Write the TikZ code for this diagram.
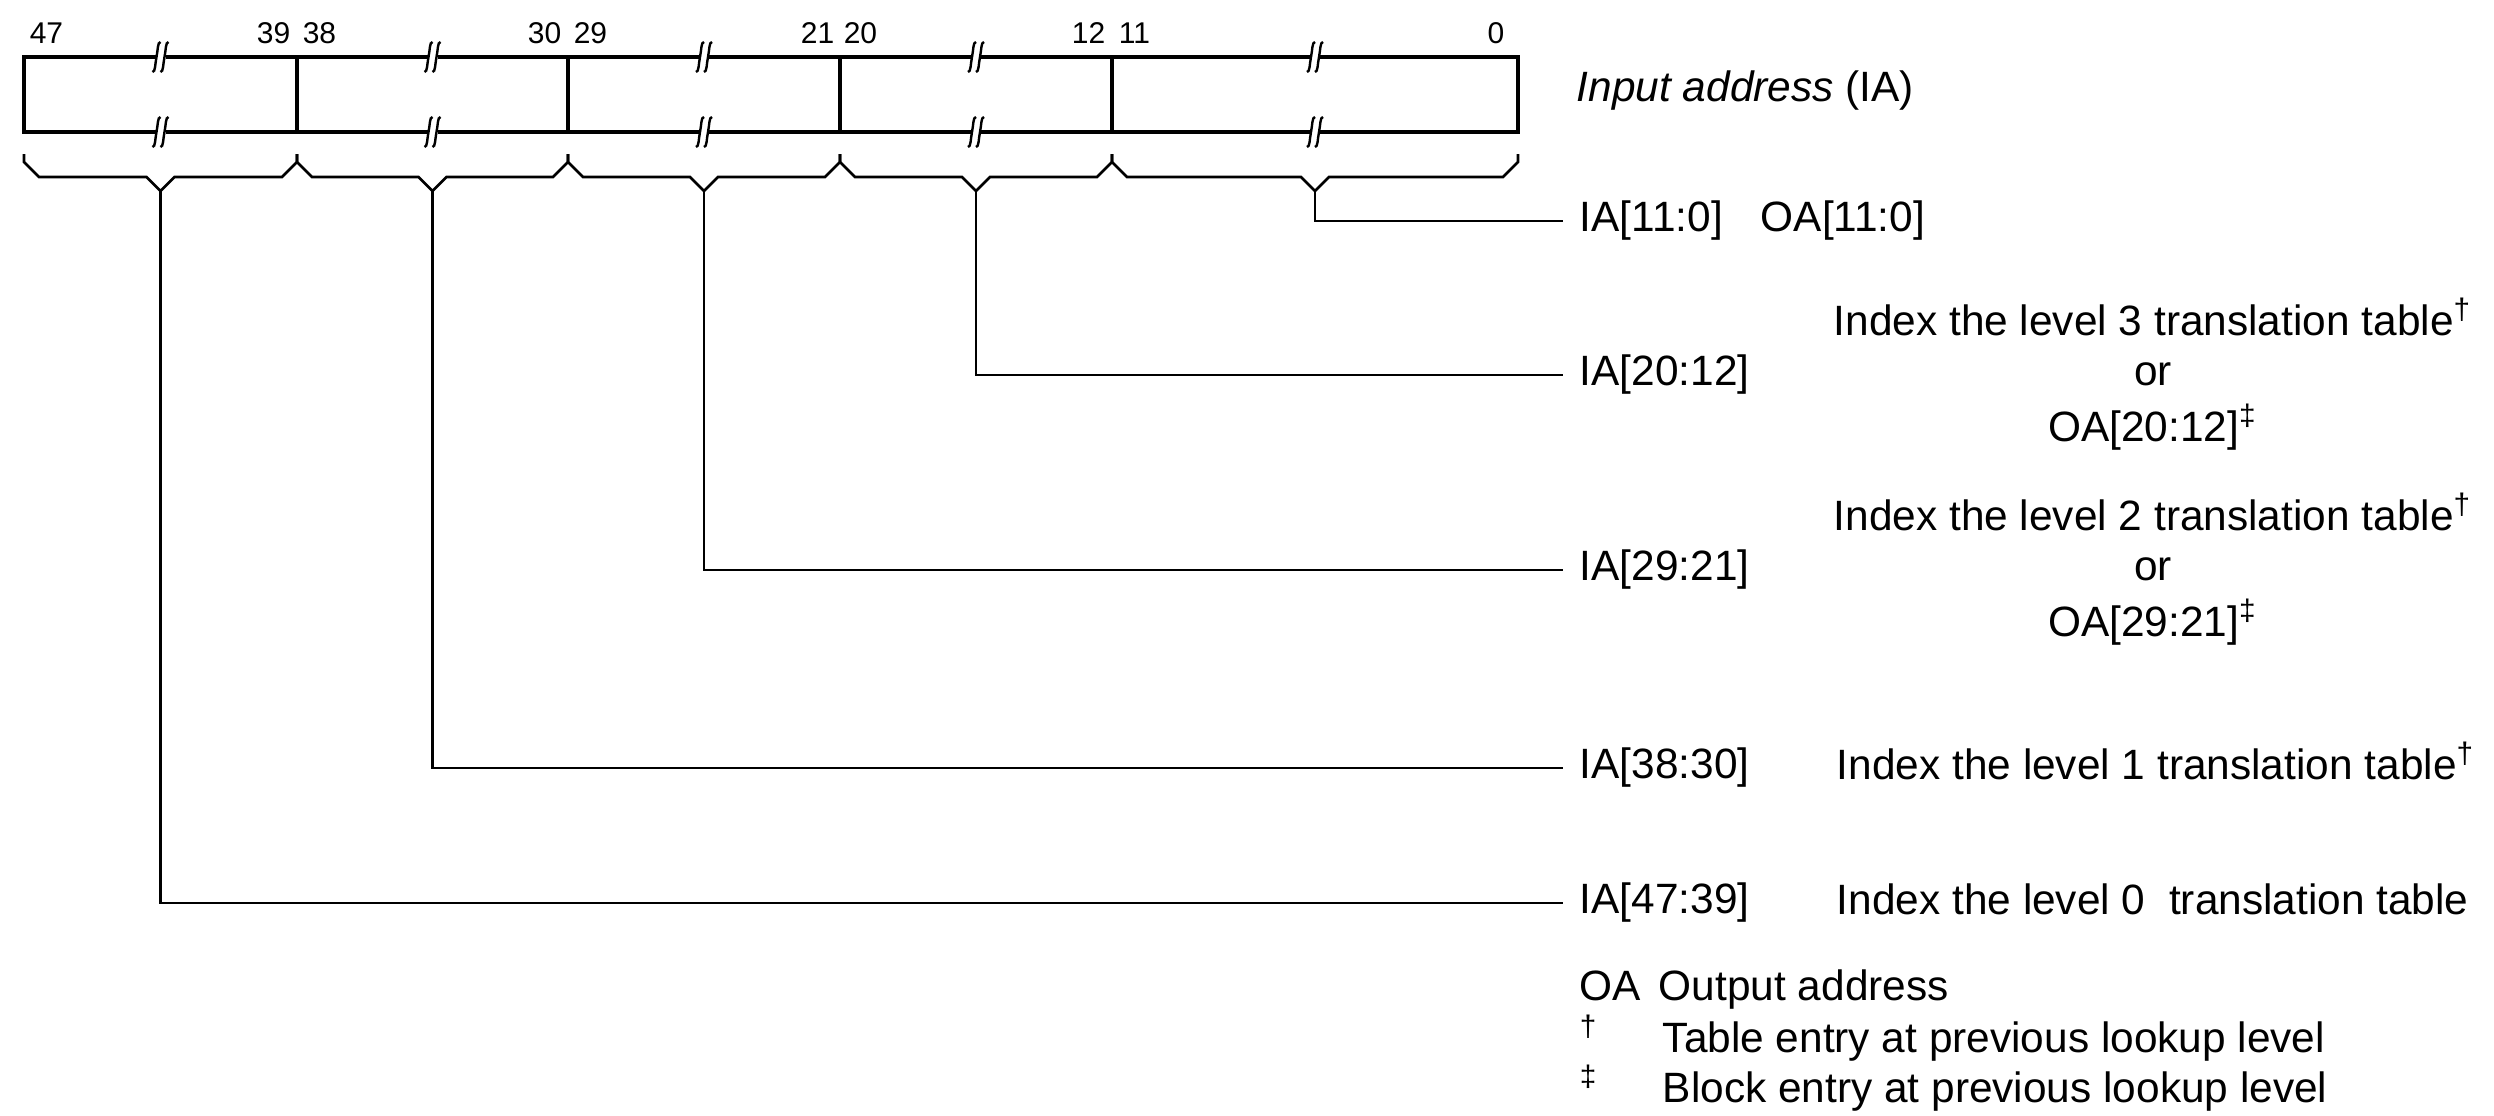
\documentclass[tikz,border=0pt]{standalone}
\usepackage{fontspec}
\setmainfont{Liberation Sans}
\begin{document}
\begin{tikzpicture}[x=0.25pt,y=-0.25pt,
  boxline/.style={line width=1.2pt},
  divline/.style={line width=0.8pt},
  conn/.style={line width=0.65pt, line join=miter},
  brkline/.style={line width=0.6pt},
  bitnum/.style={inner sep=0pt, font=\fontsize{7.5pt}{9pt}\selectfont},
  lbl/.style={inner xsep=4pt, inner ysep=0pt, anchor=west, font=\fontsize{10.6pt}{12.5pt}\selectfont},
  txt/.style={inner sep=0pt, anchor=base west, font=\fontsize{10.6pt}{12.5pt}\selectfont},
  desc/.style={inner sep=0pt, align=center, anchor=center, font=\fontsize{10.6pt}{12.5pt}\selectfont},
  brkmk/.pic={
    \fill[white] (-5,-5) rectangle (5,5);
    \foreach \c in {-4,4}{
      \draw[brkline] (\c+4,-15) .. controls (\c+1,-15) and (\c+1.5,-7) .. (\c,0)
                               .. controls (\c-1.5,7) and (\c-1,15) .. (\c-4,15);
    }
  }
]
\useasboundingbox (0,0) rectangle (2494,1115);

% register box
\draw[boxline] (24,57) rectangle (1518,132);
\foreach \x in {297,568,840,1112}
  \draw[divline] (\x,57) -- (\x,132);
\foreach \x in {160.5,432.5,704,976,1315}{
  \pic at (\x,57) {brkmk};
  \pic at (\x,132) {brkmk};
}

% bit numbers
\node[bitnum, anchor=base west] (n47) at (29,43) {47};
\node[bitnum, anchor=base east] (n39) at (291,43) {39};
\node[bitnum, anchor=base west] (n38) at (302,43) {38};
\node[bitnum, anchor=base east] (n30) at (562,43) {30};
\node[bitnum, anchor=base west] (n29) at (573,43) {29};
\node[bitnum, anchor=base east] (n21) at (835,43) {21};
\node[bitnum, anchor=base west] (n20) at (843,43) {20};
\node[bitnum, anchor=base east] (n12) at (1106,43) {12};
\node[bitnum, anchor=base west] (n11) at (1118,43) {11};
\node[bitnum, anchor=base east] (n0) at (1505,43) {0};

\node[txt] (ia) at (1576,101) {\textit{Input address} (IA)};

% braces
\foreach \a/\b/\m in {24/297/160.5, 297/568/432.5, 568/840/704, 840/1112/976, 1112/1518/1315}
  \draw[conn] (\a,154) -- (\a,162) -- (\a+15,177) -- (\m-14,177) -- (\m,191)
              -- (\m+14,177) -- (\b-15,177) -- (\b,162) -- (\b,154);

\coordinate (t1) at (160.5,191);
\coordinate (t2) at (432.5,191);
\coordinate (t3) at (704,191);
\coordinate (t4) at (976,191);
\coordinate (t5) at (1315,191);

% labels
\node[lbl] (l11) at (1563,221) {IA[11:0]};
\node[lbl, inner xsep=0pt] (oa11) at (1760,221) {OA[11:0]};
\node[lbl] (l20) at (1563,375) {IA[20:12]};
\node[lbl] (l29) at (1563,570) {IA[29:21]};
\node[lbl] (l38) at (1563,768) {IA[38:30]};
\node[lbl] (l47) at (1563,903) {IA[47:39]};

\draw[conn] (t5) |- (l11.west);
\draw[conn] (t4) |- (l20.west);
\draw[conn] (t3) |- (l29.west);
\draw[conn] (t2) |- (l38.west);
\draw[conn] (t1) |- (l47.west);

% descriptions
\node[desc] (d3) at (2153,377) {\strut Index the level 3 translation table\textsuperscript{†}\\\strut or\\\strut OA[20:12]\textsuperscript{‡}};
\node[desc] (d2) at (2153,572) {\strut Index the level 2 translation table\textsuperscript{†}\\\strut or\\\strut OA[29:21]\textsuperscript{‡}};
\node[txt] (d1) at (1836,779) {Index the level 1 translation table\textsuperscript{†}};
\node[txt] (d0) at (1836,914) {Index the level 0\ \ translation table};

% legend
\node[txt] (k1) at (1579,1000) {OA};
\node[txt] (k1t) at (1658,1000) {Output address};
\node[txt] (k2) at (1579,1052) {\textsuperscript{†}};
\node[txt] (k2t) at (1662,1052) {Table entry at previous lookup level};
\node[txt] (k3) at (1579,1102) {\textsuperscript{‡}};
\node[txt] (k3t) at (1662,1102) {Block entry at previous lookup level};
\end{tikzpicture}
\end{document}
